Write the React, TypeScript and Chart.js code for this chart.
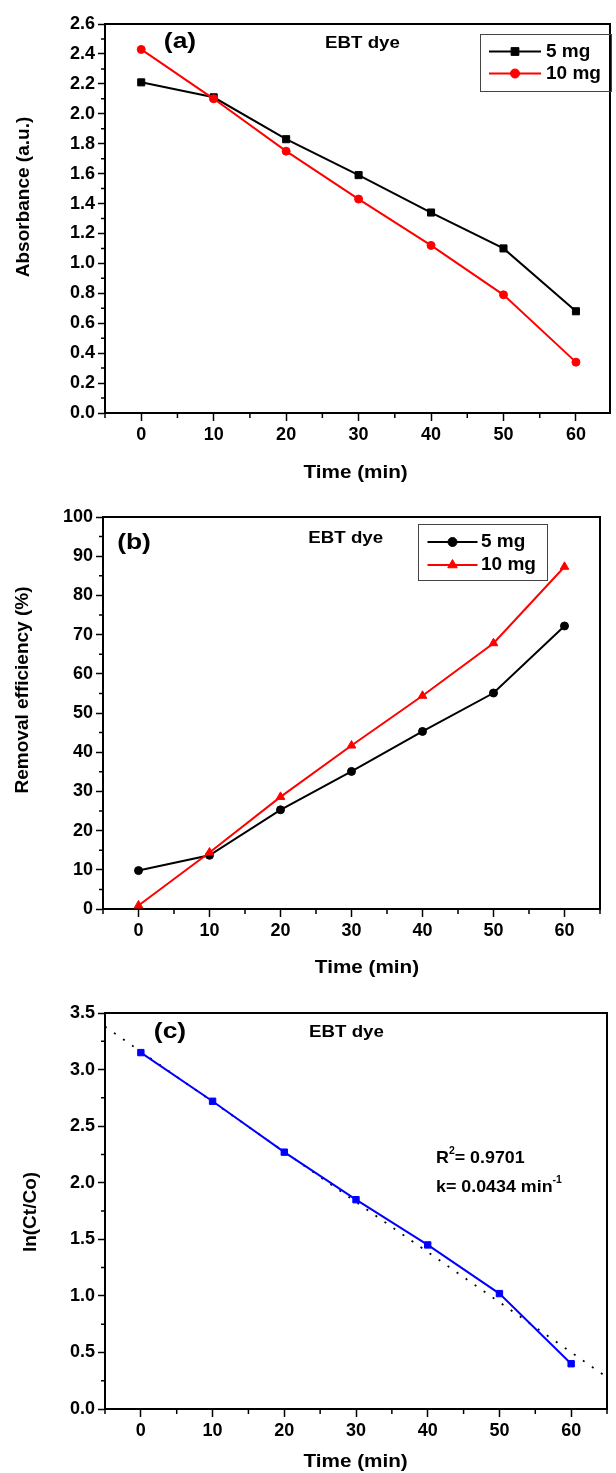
import React, { useEffect, useRef } from 'react';
import { Chart, registerables } from 'chart.js';
import { drawPoint } from 'chart.js/helpers';

Chart.register(...registerables);

const FONT = "'Liberation Sans', Arial, Helvetica, sans-serif";

// ---------- data ----------
const timeMin = [0, 10, 20, 30, 40, 50, 60];
const absorbance5mg = [2.21, 2.11, 1.83, 1.59, 1.34, 1.1, 0.68];
const absorbance10mg = [2.43, 2.1, 1.75, 1.43, 1.12, 0.79, 0.34];
const removal5mg = [9.8, 13.7, 25.3, 35.1, 45.3, 55.1, 72.2];
const removal10mg = [0.9, 14.4, 28.6, 41.7, 54.4, 67.8, 87.3];
const lnCtCo = [3.15, 2.72, 2.27, 1.85, 1.45, 1.02, 0.4];
const fitTime = [-5, 65];
const fitLnCtCo = [3.38, 0.28];

// ---------- ticks ----------
const timeTicks = [0, 10, 20, 30, 40, 50, 60];
const timeMinorTicks = [-5, 5, 15, 25, 35, 45, 55, 65];
const absorbanceTicks = [0, 0.2, 0.4, 0.6, 0.8, 1.0, 1.2, 1.4, 1.6, 1.8, 2.0, 2.2, 2.4, 2.6];
const absorbanceMinorTicks = [0.1, 0.3, 0.5, 0.7, 0.9, 1.1, 1.3, 1.5, 1.7, 1.9, 2.1, 2.3, 2.5];
const removalTicks = [0, 10, 20, 30, 40, 50, 60, 70, 80, 90, 100];
const removalMinorTicks = [5, 15, 25, 35, 45, 55, 65, 75, 85, 95];
const lnTicks = [0, 0.5, 1.0, 1.5, 2.0, 2.5, 3.0, 3.5];
const lnMinorTicks = [0.25, 0.75, 1.25, 1.75, 2.25, 2.75, 3.25];

const pts = (xs: number[], ys: number[]) => xs.map((x, i) => ({ x, y: ys[i] }));

type Part = [string, boolean];
type TextItem = {
  parts: Part[];
  x: number;
  y: number;
  size: number;
  sx?: number;
  align?: 'left' | 'center';
  rotate?: boolean;
};
type LegendCfg = {
  box: [number, number, number, number];
  entries: { ds: number; y: number }[];
  lineX: [number, number];
  textX: number;
};
type PanelCfg = {
  top: number;
  height: number;
  yAxisW: number;
  xAxisH: number;
  padTop: number;
  padRight: number;
  xMax: number;
  yMin: number;
  yMax: number;
  yTicks: number[];
  yMinor: number[];
  yDecimals: number;
  datasets: any[];
  texts: TextItem[];
  legend?: LegendCfg;
};

function drawText(ctx: CanvasRenderingContext2D, t: TextItem) {
  const sx = t.sx ?? 1;
  const big = `bold ${t.size}px ${FONT}`;
  const small = `bold ${Math.round(t.size * 0.6)}px ${FONT}`;
  ctx.save();
  ctx.fillStyle = '#000';
  ctx.textBaseline = 'middle';
  ctx.textAlign = 'left';
  let total = 0;
  for (const [s, sup] of t.parts) {
    ctx.font = sup ? small : big;
    total += ctx.measureText(s).width;
  }
  ctx.translate(t.x, t.y);
  if (t.rotate) ctx.rotate(-Math.PI / 2);
  ctx.scale(sx, 1);
  let cx = t.align === 'left' ? 0 : -total / 2;
  for (const [s, sup] of t.parts) {
    ctx.font = sup ? small : big;
    ctx.fillText(s, cx, sup ? -t.size * 0.42 : 0);
    cx += ctx.measureText(s).width;
  }
  ctx.restore();
}

const decorPlugin = {
  id: 'decor',
  afterDraw(chart: any) {
    const cfg: PanelCfg = chart.options.plugins.decor.cfg;
    const { ctx, chartArea } = chart;
    const { left, right, top, bottom } = chartArea;
    const xs = chart.scales.x;
    const ys = chart.scales.y;
    ctx.save();
    ctx.strokeStyle = '#000';
    // top and right frame
    ctx.lineWidth = 2;
    ctx.beginPath();
    ctx.moveTo(left - 1, top);
    ctx.lineTo(right, top);
    ctx.lineTo(right, bottom + 1);
    ctx.stroke();
    // minor ticks
    ctx.lineWidth = 1.5;
    ctx.beginPath();
    for (const v of timeMinorTicks) {
      const p = xs.getPixelForValue(v);
      if (p < left - 0.5 || p > right + 0.5) continue;
      ctx.moveTo(p, bottom);
      ctx.lineTo(p, bottom + 5);
    }
    for (const v of cfg.yMinor) {
      const p = ys.getPixelForValue(v);
      ctx.moveTo(left, p);
      ctx.lineTo(left - 4, p);
    }
    ctx.stroke();
    ctx.restore();

    for (const t of cfg.texts) drawText(ctx, t);

    if (cfg.legend) {
      const lg = cfg.legend;
      ctx.save();
      ctx.strokeStyle = '#444';
      ctx.lineWidth = 1;
      const [bx, by, bw, bh] = lg.box;
      ctx.strokeRect(bx + 0.5, by + 0.5, bw, bh);
      for (const e of lg.entries) {
        const ds = chart.data.datasets[e.ds];
        ctx.strokeStyle = ds.borderColor;
        ctx.fillStyle = ds.pointBackgroundColor;
        ctx.lineWidth = 2;
        ctx.beginPath();
        ctx.moveTo(lg.lineX[0], e.y);
        ctx.lineTo(lg.lineX[1], e.y);
        ctx.stroke();
        ctx.lineWidth = 1;
        drawPoint(
          ctx,
          { pointStyle: ds.pointStyle, radius: ds.pointRadius + 0.5, rotation: 0, borderWidth: 1 } as any,
          (lg.lineX[0] + lg.lineX[1]) / 2,
          e.y
        );
        drawText(ctx, { parts: [[ds.label, false]], x: lg.textX, y: e.y, size: 19, sx: 1, align: 'left' });
      }
      ctx.restore();
    }
  },
};

function seriesStyle(color: string, style: string, radius: number) {
  return {
    borderColor: color,
    backgroundColor: color,
    pointBackgroundColor: color,
    pointBorderColor: color,
    pointBorderWidth: 1,
    pointStyle: style,
    pointRadius: radius,
    borderWidth: 2,
    tension: 0,
  };
}

const panelA: PanelCfg = {
  top: 0,
  height: 490,
  yAxisW: 105,
  xAxisH: 77,
  padTop: 24,
  padRight: 1,
  xMax: 64.7,
  yMin: 0,
  yMax: 2.6,
  yTicks: absorbanceTicks,
  yMinor: absorbanceMinorTicks,
  yDecimals: 1,
  datasets: [
    { label: '10 mg', data: pts(timeMin, absorbance10mg), order: 0, ...seriesStyle('#ff0000', 'circle', 4) },
    { label: '5 mg', data: pts(timeMin, absorbance5mg), order: 1, ...seriesStyle('#000000', 'rect', 5) },
  ],
  texts: [
    { parts: [['(a)', false]], x: 180, y: 42, size: 22, sx: 1.2 },
    { parts: [['EBT dye', false]], x: 362.5, y: 43, size: 17, sx: 1.1 },
    { parts: [['Time (min)', false]], x: 355.6, y: 473, size: 18, sx: 1.15 },
    { parts: [['Absorbance (a.u.)', false]], x: 24, y: 197, size: 19, rotate: true },
  ],
  legend: {
    box: [480, 34, 131, 57],
    entries: [
      { ds: 1, y: 51.5 },
      { ds: 0, y: 73.5 },
    ],
    lineX: [489, 541],
    textX: 546,
  },
};

const panelB: PanelCfg = {
  top: 490,
  height: 490,
  yAxisW: 103,
  xAxisH: 71,
  padTop: 27,
  padRight: 16,
  xMax: 65,
  yMin: 0,
  yMax: 100,
  yTicks: removalTicks,
  yMinor: removalMinorTicks,
  yDecimals: 0,
  datasets: [
    { label: '10 mg', data: pts(timeMin, removal10mg), order: 0, ...seriesStyle('#ff0000', 'triangle', 5) },
    { label: '5 mg', data: pts(timeMin, removal5mg), order: 1, ...seriesStyle('#000000', 'circle', 4) },
  ],
  texts: [
    { parts: [['(b)', false]], x: 134, y: 53, size: 22, sx: 1.2 },
    { parts: [['EBT dye', false]], x: 345.7, y: 48, size: 17, sx: 1.1 },
    { parts: [['Time (min)', false]], x: 367, y: 478, size: 18, sx: 1.15 },
    { parts: [['Removal efficiency (%)', false]], x: 23, y: 200, size: 19, rotate: true },
  ],
  legend: {
    box: [418, 34, 129, 56],
    entries: [
      { ds: 1, y: 52 },
      { ds: 0, y: 75 },
    ],
    lineX: [427.5, 477.5],
    textX: 481,
  },
};

const panelC: PanelCfg = {
  top: 980,
  height: 493,
  yAxisW: 105,
  xAxisH: 64,
  padTop: 33,
  padRight: 9,
  xMax: 65,
  yMin: 0,
  yMax: 3.5,
  yTicks: lnTicks,
  yMinor: lnMinorTicks,
  yDecimals: 1,
  datasets: [
    { label: 'ln(Ct/Co)', data: pts(timeMin, lnCtCo), order: 0, ...seriesStyle('#0000ff', 'rect', 4.5) },
    {
      label: 'Linear fit',
      data: pts(fitTime, fitLnCtCo),
      order: 1,
      borderColor: '#000',
      borderWidth: 1.8,
      borderDash: [2, 9],
      pointRadius: 0,
      tension: 0,
    },
  ],
  texts: [
    { parts: [['(c)', false]], x: 170, y: 52, size: 22, sx: 1.2 },
    { parts: [['EBT dye', false]], x: 346.5, y: 52, size: 17, sx: 1.1 },
    { parts: [['R', false], ['2', true], ['= 0.9701', false]], x: 436, y: 178.5, size: 17, sx: 1.05, align: 'left' },
    { parts: [['k= 0.0434 min', false], ['-1', true]], x: 436, y: 207, size: 17, sx: 1.05, align: 'left' },
    { parts: [['Time (min)', false]], x: 355.6, y: 482, size: 18, sx: 1.15 },
    { parts: [['ln(Ct/Co)', false]], x: 31, y: 232, size: 19, rotate: true },
  ],
};

function Panel({ cfg }: { cfg: PanelCfg }) {
  const ref = useRef<HTMLCanvasElement>(null);
  useEffect(() => {
    const tickFont = { family: FONT, size: 18, weight: 'bold' as const };
    const chart = new Chart(ref.current!, {
      type: 'line',
      data: { datasets: cfg.datasets },
      plugins: [decorPlugin],
      options: {
        animation: false,
        responsive: false,
        layout: { padding: { left: 0, top: cfg.padTop, right: cfg.padRight, bottom: 0 } },
        plugins: {
          legend: { display: false },
          tooltip: { enabled: false },
          decor: { cfg },
        } as any,
        scales: {
          x: {
            type: 'linear',
            min: -5,
            max: cfg.xMax,
            afterBuildTicks: (s: any) => {
              s.ticks = timeTicks.map((v) => ({ value: v }));
            },
            afterFit: (s: any) => {
              s.height = cfg.xAxisH;
            },
            ticks: {
              font: tickFont,
              color: '#000',
              padding: 3,
              maxRotation: 0,
              autoSkip: false,
              callback: (v: any) => String(v),
            },
            grid: { drawOnChartArea: false, tickLength: 8, tickWidth: 1.5, tickColor: '#000' },
            border: { display: true, color: '#000', width: 2 },
          },
          y: {
            type: 'linear',
            min: cfg.yMin,
            max: cfg.yMax,
            afterBuildTicks: (s: any) => {
              s.ticks = cfg.yTicks.map((v) => ({ value: v }));
            },
            afterFit: (s: any) => {
              s.width = cfg.yAxisW;
            },
            ticks: {
              font: tickFont,
              color: '#000',
              padding: 3,
              autoSkip: false,
              callback: (v: any) => Number(v).toFixed(cfg.yDecimals),
            },
            grid: { drawOnChartArea: false, tickLength: 7, tickWidth: 1.5, tickColor: '#000' },
            border: { display: true, color: '#000', width: 2 },
          },
        },
      } as any,
    });
    return () => chart.destroy();
  }, []);
  return (
    <canvas
      ref={ref}
      width={616}
      height={cfg.height}
      style={{ position: 'absolute', left: 0, top: cfg.top, width: 616, height: cfg.height }}
    />
  );
}

export default function App() {
  return (
    <div style={{ position: 'absolute', left: 0, top: 0, width: 616, height: 1473, background: '#fff' }}>
      <Panel cfg={panelA} />
      <Panel cfg={panelB} />
      <Panel cfg={panelC} />
    </div>
  );
}
